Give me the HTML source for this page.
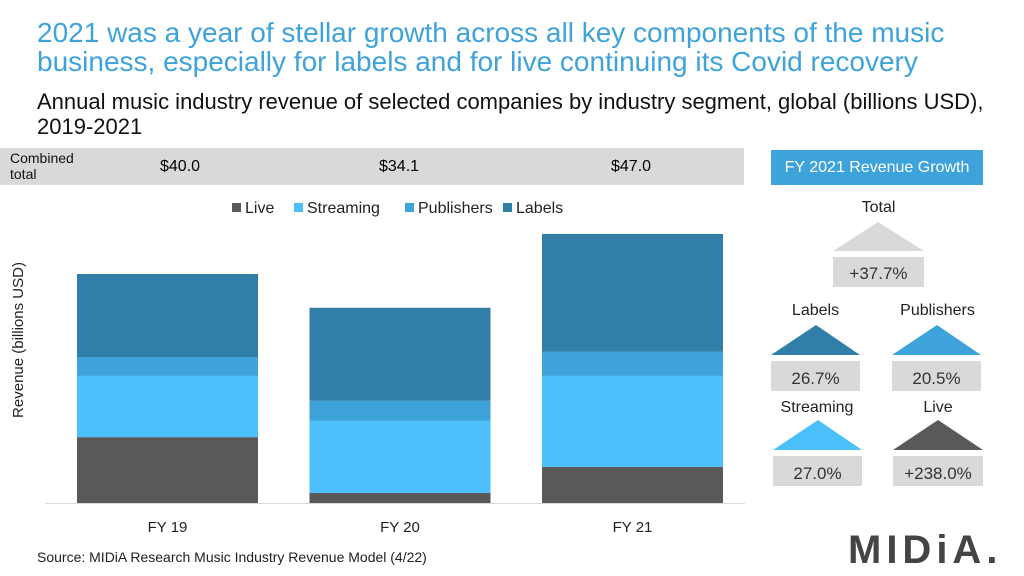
<!DOCTYPE html>
<html><head><meta charset="utf-8"><style>
body{margin:0;width:1024px;height:576px;background:#fff;font-family:"Liberation Sans",sans-serif;position:relative;overflow:hidden}
.a{position:absolute}
.box{background:#d9d9d9;text-align:center;font-size:17px;color:#333}
.lbl{text-align:center;font-size:16px;color:#222}
</style></head><body>
<div class="a" style="left:37px;top:18px;font-size:28px;line-height:29px;color:#3ea3da;width:950px">2021 was a year of stellar growth across all key components of the music business, especially for labels and for live continuing its Covid recovery</div>
<div class="a" style="left:37px;top:89px;font-size:22px;line-height:25px;color:#111;width:980px">Annual music industry revenue of selected companies by industry segment, global (billions USD), 2019-2021</div>
<div class="a" style="left:0;top:148px;width:744px;height:37px;background:#d9d9d9"></div>
<div class="a" style="left:10px;top:150px;font-size:14px;line-height:16px;color:#111">Combined<br>total</div>
<div class="a" style="left:160px;top:158px;font-size:16px">$40.0</div>
<div class="a" style="left:379px;top:158px;font-size:16px">$34.1</div>
<div class="a" style="left:611px;top:158px;font-size:16px">$47.0</div>
<svg class="a" style="left:0;top:0" width="760" height="576" id="chart"></svg>
<div class="a" style="left:771px;top:150px;width:212px;height:35px;background:#3ea3da;color:#fff;font-size:16px;line-height:35px;text-align:center">FY 2021 Revenue Growth</div>
<div class="a lbl" style="left:833px;top:199px;width:91px">Total</div>
<svg class="a" style="left:833px;top:222px" width="91" height="30"><polygon points="0,29 45,0 91,29" fill="#d9d9d9"/></svg>
<div class="a box" style="left:833px;top:257px;width:91px;height:30px;line-height:34px">+37.7%</div>
<div class="a lbl" style="left:771px;top:302px;width:89px">Labels</div>
<svg class="a" style="left:771px;top:325px" width="89" height="30"><polygon points="0,30 45,0 89,30" fill="#317fa8"/></svg>
<div class="a box" style="left:771px;top:361px;width:89px;height:30px;line-height:36px">26.7%</div>
<div class="a lbl" style="left:890px;top:302px;width:95px">Publishers</div>
<svg class="a" style="left:892px;top:325px" width="89" height="30"><polygon points="0,30 45,0 89,30" fill="#3ea3da"/></svg>
<div class="a box" style="left:892px;top:361px;width:89px;height:30px;line-height:36px">20.5%</div>
<div class="a lbl" style="left:771px;top:399px;width:92px">Streaming</div>
<svg class="a" style="left:773px;top:420px" width="89" height="30"><polygon points="0,30 45,0 89,30" fill="#4bc0fb"/></svg>
<div class="a box" style="left:773px;top:456px;width:89px;height:30px;line-height:36px">27.0%</div>
<div class="a lbl" style="left:893px;top:399px;width:90px">Live</div>
<svg class="a" style="left:893px;top:420px" width="90" height="30"><polygon points="0,30 45,0 90,30" fill="#595959"/></svg>
<div class="a box" style="left:893px;top:456px;width:90px;height:30px;line-height:36px">+238.0%</div>
<div class="a" style="left:37px;top:549px;font-size:14px;color:#222">Source: MIDiA Research Music Industry Revenue Model (4/22)</div>
<div class="a" style="left:848px;top:530px;font-size:40px;font-weight:bold;letter-spacing:5px;color:#444;line-height:40px">MIDiA.</div>
<script>
const categories=["FY 19","FY 20","FY 21"];
const segments=["Live","Streaming","Publishers","Labels"];
const colors=["#595959","#4bc0fb","#3ea3da","#317fa8"];
const live=[11.5,1.75,6.3];
const streaming=[10.7,12.6,15.9];
const publishers=[3.3,3.5,4.2];
const labels=[14.5,16.25,20.6];
const series=[live,streaming,publishers,labels];
const svg=document.getElementById('chart');
const NS='http://www.w3.org/2000/svg';
const base=503, scale=5.725, left=45, step=232.5, bw=181;
const y=v=>base-v*scale;
const x=i=>left+32+i*step;
function mk(t,a){const e=document.createElementNS(NS,t);for(const k in a)e.setAttribute(k,a[k]);svg.appendChild(e);return e;}
categories.forEach((c,i)=>{
 let acc=0;
 series.forEach((s,j)=>{
  const r=mk('rect',{x:x(i),y:y(acc+s[i]),width:bw,height:s[i]*scale,fill:colors[j]});
  
  
  acc+=s[i];
 });
 const t=mk('text',{x:x(i)+bw/2,y:532,'text-anchor':'middle','font-size':15,fill:'#222'});
 t.textContent=c;
 
 
});
const ax=mk('line',{x1:45,x2:745,y1:base+0.5,y2:base+0.5,stroke:'#d9d9d9','stroke-width':1});


const yt=mk('text',{x:0,y:0,transform:'translate(23,340) rotate(-90)','text-anchor':'middle','font-size':15,fill:'#222'});
yt.textContent='Revenue (billions USD)';


const lx=[232,294,405,503];
segments.forEach((s,j)=>{
 const r=mk('rect',{x:lx[j],y:203,width:9,height:9,fill:colors[j]});
 
 
 const t=mk('text',{x:lx[j]+13,y:213,'font-size':16,fill:'#222'});
 t.textContent=s;
 
 
});
</script>
</body></html>
